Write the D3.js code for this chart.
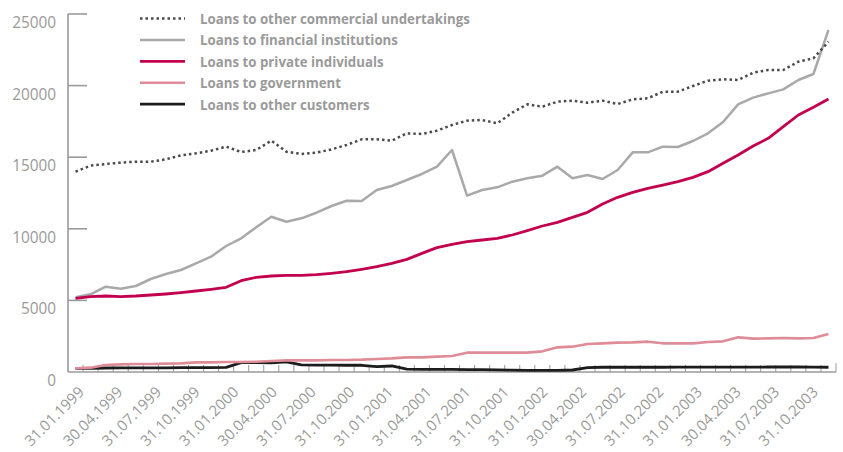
<!DOCTYPE html>
<html>
<head>
<meta charset="utf-8">
<script src="https://cdn.jsdelivr.net/npm/d3@7"></script>
<style>
body { margin: 0; background: #fff; }
text { font-family: "Open Sans", sans-serif; fill: #9a9a9a; }
</style>
</head>
<body>
<script>
var w = 843, h = 452;

var points = d3.range(51);

var commercial = [13990, 14410, 14525, 14620, 14687, 14687, 14851, 15130, 15270, 15456,
  15736, 15363, 15503, 16155, 15386, 15223, 15316, 15549, 15852, 16248,
  16248, 16155, 16666, 16620, 16853, 17249, 17551, 17598, 17365, 18109,
  18691, 18528, 18877, 18947, 18808, 18947, 18715, 19041, 19111, 19576,
  19576, 19972, 20344, 20438, 20391, 20903, 21089, 21089, 21670, 21904, 23066];

var financial = [5216, 5426, 5957, 5817, 6006, 6494, 6844, 7123, 7590, 8052,
  8799, 9337, 10105, 10845, 10496, 10733, 11124, 11592, 11962, 11941,
  12709, 12989, 13408, 13827, 14339, 15503, 12313, 12709, 12895, 13292,
  13524, 13711, 14339, 13524, 13757, 13478, 14106, 15339, 15339, 15736,
  15712, 16131, 16666, 17458, 18691, 19157, 19460, 19739, 20391, 20810, 23883];

var privateInd = [5145, 5261, 5307, 5261, 5307, 5377, 5447, 5540, 5656, 5773,
  5912, 6378, 6611, 6704, 6750, 6750, 6797, 6890, 7006, 7169,
  7355, 7588, 7868, 8287, 8682, 8915, 9101, 9218, 9334, 9567,
  9870, 10196, 10452, 10801, 11150, 11732, 12197, 12546, 12825, 13058,
  13291, 13594, 13990, 14571, 15154, 15782, 16317, 17132, 17947, 18482, 19064];

var government = [258, 303, 489, 535, 559, 559, 582, 605, 675, 675,
  698, 698, 721, 768, 815, 815, 815, 838, 838, 861,
  908, 954, 1024, 1024, 1071, 1117, 1350, 1350, 1350, 1350,
  1350, 1443, 1722, 1769, 1955, 2002, 2048, 2071, 2118, 2002,
  2002, 2002, 2095, 2141, 2421, 2328, 2351, 2374, 2351, 2374, 2654];

var otherCust = [250, 260, 280, 290, 290, 290, 290, 300, 300, 310,
  320, 650, 650, 640, 700, 500, 480, 480, 470, 470,
  380, 420, 200, 190, 180, 180, 170, 160, 150, 130,
  110, 110, 120, 140, 300, 330, 330, 330, 330, 330,
  340, 340, 340, 340, 340, 340, 350, 350, 350, 340, 330];

var tickLabels = ["31.01.1999", "30.04.1999", "31.07.1999", "31.10.1999", "31.01.2000",
  "30.04.2000", "31.07.2000", "31.10.2000", "31.01.2001", "31.04.2001",
  "31.07.2001", "31.10.2001", "31.01.2002", "30.04.2002", "31.07.2002",
  "31.10.2002", "31.01.2003", "30.04.2003", "31.07.2003", "31.10.2003"];

var yTicks = [0, 5000, 10000, 15000, 20000, 25000];

var series = [
  { name: "Loans to other commercial undertakings", values: commercial, color: "#4a4a4a", width: 2.5, dash: "2.5,3" },
  { name: "Loans to financial institutions", values: financial, color: "#a9a9ab", width: 2.5 },
  { name: "Loans to private individuals", values: privateInd, color: "#c2004f", width: 2.8 },
  { name: "Loans to government", values: government, color: "#df8c99", width: 2.6 },
  { name: "Loans to other customers", values: otherCust, color: "#1c1c1c", width: 2.8 }
];

var svg = d3.select("body").append("svg")
  .attr("width", w)
  .attr("height", h);

var x = d3.scaleBand().domain(points).range([68, 836]);
var y = d3.scaleLinear().domain([0, 25000]).range([372, 14]);
var xl = d3.scalePoint().domain(tickLabels).range([85, 819]);

var axisColor = "#9a9a9a";

// y axis
svg.append("line")
  .attr("x1", 68).attr("x2", 68).attr("y1", y(0)).attr("y2", y(25000))
  .attr("stroke", axisColor).attr("stroke-width", 1.6);

svg.selectAll(".ytick")
  .data(yTicks.slice(1))
  .enter().append("line")
  .attr("x1", 68).attr("x2", 87)
  .attr("y1", function (d) { return y(d); })
  .attr("y2", function (d) { return y(d); })
  .attr("stroke", axisColor).attr("stroke-width", 1.6);

svg.selectAll(".ylab")
  .data(yTicks)
  .enter().append("text")
  .attr("transform", function (d) { return "translate(56," + (y(d) + 14) + ") scale(0.93,1)"; })
  .attr("text-anchor", "end")
  .style("font-size", "16.5px")
  .text(function (d) { return d; });

// x axis with monthly ticks at band edges
svg.append("line")
  .attr("x1", 68).attr("x2", 836).attr("y1", y(0)).attr("y2", y(0))
  .attr("stroke", axisColor).attr("stroke-width", 1.6);

svg.selectAll(".xtick")
  .data(points)
  .enter().append("line")
  .attr("x1", function (d) { return x(d) + x.bandwidth(); })
  .attr("x2", function (d) { return x(d) + x.bandwidth(); })
  .attr("y1", y(0))
  .attr("y2", function (d, i) { return i == points.length - 1 ? y(0) - 9 : y(0) - 7; })
  .attr("stroke", axisColor).attr("stroke-width", 1);

svg.selectAll(".xlab")
  .data(tickLabels)
  .enter().append("text")
  .attr("text-anchor", "end")
  .attr("transform", function (d) { return "translate(" + xl(d) + ",393) rotate(-45)"; })
  .style("font-size", "15px")
  .text(function (d) { return d; });

// lines
var line = d3.line()
  .x(function (d, i) { return x(i) + x.bandwidth() / 2; })
  .y(function (d) { return y(d); });

var drawOrder = [1, 0, 2, 4, 3];
drawOrder.forEach(function (k) {
  var s = series[k];
  svg.append("path")
    .attr("d", line(s.values))
    .attr("fill", "none")
    .attr("stroke", s.color)
    .attr("stroke-width", s.width)
    .attr("stroke-linejoin", "round")
    .attr("stroke-dasharray", s.dash || null);
});

// legend
var legend = svg.selectAll(".leg")
  .data(series)
  .enter().append("g")
  .attr("transform", function (d, i) { return "translate(0," + (18.5 + i * 21.4) + ")"; });

legend.append("line")
  .attr("x1", 140).attr("x2", 185)
  .attr("stroke", function (d) { return d.color; })
  .attr("stroke-width", function (d) { return d.width; })
  .attr("stroke-dasharray", function (d) { return d.dash || null; });

legend.append("text")
  .attr("transform", "translate(200,5.5) scale(0.885,1)")
  .style("font-size", "15px")
  .style("font-weight", "bold")
  .text(function (d) { return d.name; });
</script>
</body>
</html>
